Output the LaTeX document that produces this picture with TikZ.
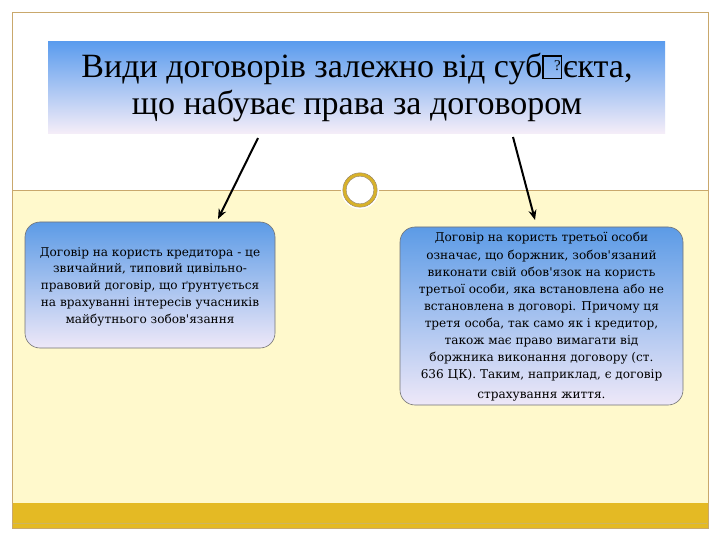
\documentclass[tikz,border=0pt]{standalone}
\usepackage{fontspec}
\setmainfont{Liberation Serif}
\newfontfamily\boxfont{DejaVu Serif}
\usetikzlibrary{arrows.meta}
\definecolor{framec}{HTML}{C9A86C}
\definecolor{paper}{HTML}{FFF9CC}
\definecolor{goldbar}{HTML}{E4BA24}
\definecolor{ringc}{HTML}{D8B22A}
\definecolor{skyblue}{HTML}{5B9CEE}
\definecolor{lavend}{HTML}{F6EEF8}
\definecolor{boxtop}{HTML}{5C9BE6}
\definecolor{boxbot}{HTML}{EEE8F8}
\newcommand{\repbox}{{\setlength{\fboxsep}{0pt}\setlength{\fboxrule}{1.5pt}\fbox{\makebox[0.5em][r]{\rule{0pt}{0.62em}\raisebox{0.22em}{\fontsize{15}{15}\selectfont ?}}}}}
\tikzset{
  infobox/.style={draw=black!55, line width=0.6pt, rounded corners=15pt, top color=boxtop, bottom color=boxbot, inner sep=0pt},
  linkarrow/.style={line width=2pt, -{Stealth[length=10pt,width=8pt]}},
  btext/.style={font=\boxfont\fontsize{12.1}{17.1}\selectfont, align=center}
}
\begin{document}
\begin{tikzpicture}[x=1pt,y=-1pt]
\useasboundingbox (0,0) rectangle (720,540);
\fill[white] (0,0) rectangle (720,540);
% yellow lower area
\fill[paper] (12,190) rectangle (708,503);
\fill[goldbar] (12,503) rectangle (708,528);
\draw[goldbar!80!black!70, line width=0.4pt] (13,523) -- (707,523);
% frame
\draw[framec, line width=0.8pt] (12,12) rectangle (708,528);
\draw[framec, line width=0.8pt] (12,190) -- (708,190);
% title box
\shade[top color=skyblue, bottom color=lavend] (48,42) rectangle (665,134);
\node[font=\fontsize{34}{37}\selectfont, align=center] (title) at (357,88)
  {Види договорів залежно від суб\repbox\kern0.02em єкта,\\що набуває права за договором};
% ring
\fill[white] (360,190) circle (19);
\draw[ringc, line width=3pt] (360,190) circle (15.5);
\draw[framec!70!black, line width=0.4pt] (360,190) circle (17.2);
\draw[framec!70!black, line width=0.4pt] (360,190) circle (13.8);
% boxes
\path[infobox] (25,222) rectangle (275,348);
\node[btext, font=\boxfont\fontsize{12.1}{16.75}\selectfont] (lefttext) at (150,286.5)
  {Договір на користь кредитора - це\\звичайний, типовий цивільно-\\правовий договір, що ґрунтується\\на врахуванні інтересів учасників\\майбутнього зобов'язання};
\coordinate (lefttop) at (218,219);
\path[infobox] (400,227) rectangle (683,405);
\node[btext, anchor=north] (righttext) at (541.5,229)
  {Договір на користь третьої особи\\означає, що боржник, зобов'язаний\\виконати свій обов'язок на користь\\третьої особи, яка встановлена або не\\встановлена в договорі. Причому ця\\третя особа, так само як і кредитор,\\також має право вимагати від\\боржника виконання договору (ст.\\636 ЦК). Таким, наприклад, є договір\\[3pt]страхування життя.};
\coordinate (righttop) at (535,220);
\coordinate (ls) at (258,138);
\coordinate (rs) at (513,137);
\draw[linkarrow] (ls) -- (lefttop);
\draw[linkarrow] (rs) -- (righttop);
\end{tikzpicture}
\end{document}
